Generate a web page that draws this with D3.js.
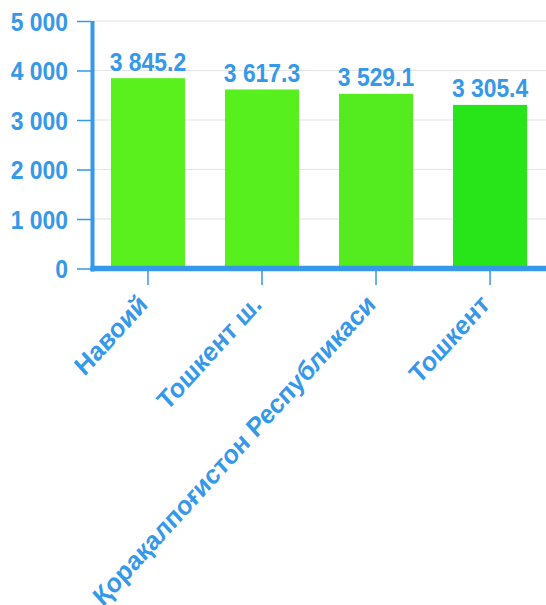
<!DOCTYPE html>
<html>
<head>
<meta charset="utf-8">
<script src="https://cdn.jsdelivr.net/npm/d3@7/dist/d3.min.js"></script>
<style>
  html, body { margin: 0; padding: 0; background: #fff; }
  svg { display: block; }
  text { font-family: "Liberation Sans", Arial, sans-serif; font-weight: bold; }
</style>
</head>
<body>
<svg id="chart" width="546" height="605"></svg>
<script>
const categories = ["Навоий", "Тошкент ш.", "Қорақалпоғистон Республикаси", "Тошкент"];
const values = [3845.2, 3617.3, 3529.1, 3305.4];
const barColors = ["#5af01e", "#58ef1f", "#55ec1f", "#28e519"];
const yTicks = [0, 1000, 2000, 3000, 4000, 5000];

const blue = "#3598e8";
const FONT = "Liberation Sans, Arial, sans-serif";
const K = 0.915; // horizontal condensing of text (picture is slightly stretched vertically)
const svg = d3.select("#chart");

function condense(sel) {
  sel.each(function () {
    const L = this.getComputedTextLength();
    d3.select(this).attr("textLength", L * K).attr("lengthAdjust", "spacingAndGlyphs");
  });
}

const y = d3.scaleLinear().domain([0, 5000]).range([268.5, 21]);
const x = d3.scaleBand().domain(categories).range([91, 547]).paddingInner(0.351).paddingOuter(0.175);

const fmt = v => d3.format(",")(v).replace(/,/g, " ");
const fmtVal = v => d3.format(",.1f")(v).replace(/,/g, " ");

// gridlines
svg.append("g").selectAll("line").data(yTicks.filter(d => d > 0)).join("line")
  .attr("x1", 94).attr("x2", 546)
  .attr("y1", d => y(d)).attr("y2", d => y(d))
  .attr("stroke", "#e4e4e4").attr("stroke-width", 1.2);

// bars
svg.append("g").selectAll("rect").data(values).join("rect")
  .attr("x", (d, i) => x(categories[i]))
  .attr("width", x.bandwidth())
  .attr("y", d => y(d))
  .attr("height", d => y(0) - y(d))
  .attr("fill", (d, i) => barColors[i]);

// value labels
svg.append("g").selectAll("text").data(values).join("text")
  .attr("x", (d, i) => x(categories[i]) + x.bandwidth() / 2)
  .attr("y", d => y(d) - 7.5)
  .attr("text-anchor", "middle")
  .attr("fill", blue)
  .attr("font-family", FONT)
  .attr("font-size", 25)
  .text(d => fmtVal(d))
  .call(condense);

// y axis
const yAxis = d3.axisLeft(y).tickValues(yTicks).tickFormat(fmt).tickSize(14).tickPadding(9);
const gy = svg.append("g").attr("transform", "translate(91,0)").call(yAxis);
gy.select(".domain").remove();
gy.selectAll(".tick line").attr("stroke", blue).attr("stroke-width", 1.5);
gy.selectAll(".tick text").attr("fill", blue).attr("font-size", 25)
  .attr("font-family", FONT).attr("font-weight", "bold")
  .attr("dy", "0.36em")
  .call(condense);

// x axis
const xAxis = d3.axisBottom(x).tickSize(14).tickSizeOuter(0);
const gx = svg.append("g").attr("transform", "translate(0,271)").call(xAxis);
gx.select(".domain").remove();
gx.selectAll(".tick line").attr("stroke", blue).attr("stroke-width", 1.5);
gx.selectAll(".tick text")
  .attr("fill", blue).attr("font-size", 24.5)
  .attr("font-family", FONT).attr("font-weight", "bold")
  .attr("text-anchor", "end")
  .attr("x", 0).attr("y", 0).attr("dy", 0)
  .attr("transform", "translate(1,35) scale(1,1.1) rotate(-45)");

// axis lines
svg.append("line").attr("x1", 92.5).attr("x2", 92.5).attr("y1", 21).attr("y2", 271.5)
  .attr("stroke", blue).attr("stroke-width", 4);
svg.append("line").attr("x1", 90.5).attr("x2", 546).attr("y1", 268.5).attr("y2", 268.5)
  .attr("stroke", blue).attr("stroke-width", 5.5);
</script>
</body>
</html>
